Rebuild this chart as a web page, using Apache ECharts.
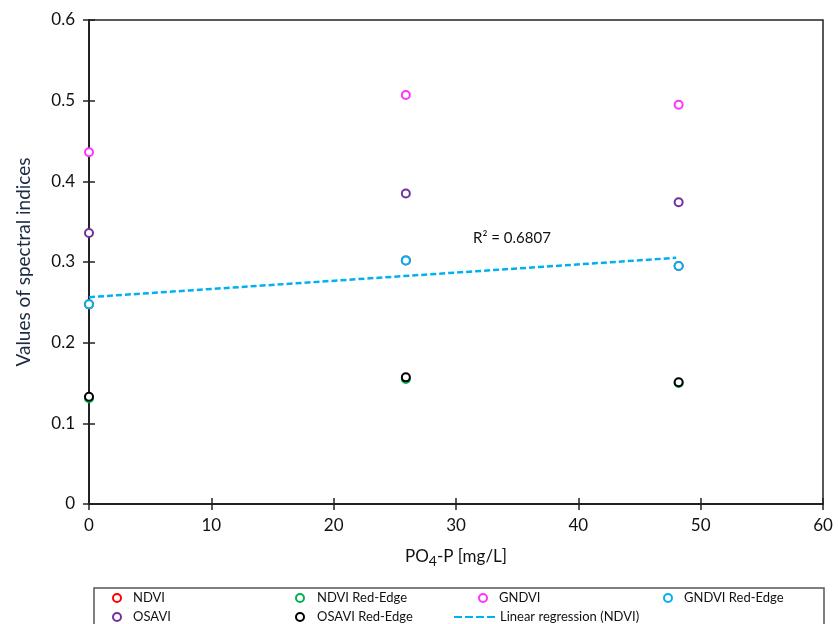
<!DOCTYPE html>
<html>
<head>
<meta charset="utf-8">
<script src="https://cdn.jsdelivr.net/npm/echarts@6/dist/echarts.min.js"></script>
<style>html,body{margin:0;padding:0;background:#fff;}#c{width:838px;height:624px;}</style>
</head>
<body>
<div id="c"></div>
<script>
const xValues = [0, 25.9, 48.2];
const ndvi = [0.2475, 0.302, 0.295];
const ndviRedEdge = [0.131, 0.155, 0.150];
const gndvi = [0.436, 0.507, 0.495];
const gndviRedEdge = [0.2475, 0.302, 0.295];
const osavi = [0.336, 0.385, 0.374];
const osaviRedEdge = [0.133, 0.157, 0.151];
const xTicks = [0, 10, 20, 30, 40, 50, 60];
const yTicks = [0, 0.1, 0.2, 0.3, 0.4, 0.5, 0.6];
const r2Label = 'R² = 0.6807';

const FONT = 'Lato, "Open Sans", sans-serif';

function pairs(ys) { return xValues.map((x, i) => [x, ys[i]]); }

// Linear regression on NDVI
function regression(xs, ys) {
  const n = xs.length;
  const mx = xs.reduce((a, b) => a + b, 0) / n;
  const my = ys.reduce((a, b) => a + b, 0) / n;
  let sxy = 0, sxx = 0;
  for (let i = 0; i < n; i++) { sxy += (xs[i] - mx) * (ys[i] - my); sxx += (xs[i] - mx) ** 2; }
  const b = sxy / sxx, a = my - b * mx;
  const x0 = Math.min(...xs), x1 = 48.0;
  return [[x0, a + b * x0], [x1, a + b * x1]];
}
const regLine = regression(xValues, ndvi);

const chart = echarts.init(document.getElementById('c'), null, { renderer: 'canvas' });

function scatter(name, data, color) {
  return {
    name, type: 'scatter', data: pairs(data), symbol: 'circle', symbolSize: 8,
    clip: false,
    itemStyle: { color: '#fff', borderColor: color, borderWidth: 2, opacity: 1 },
    emphasis: { disabled: true }
  };
}

const legendText = { fontFamily: FONT, fontSize: 13, color: '#111', lineHeight: 14 };
function legend(left, items, itemWidth, top) {
  return {
    left, top: top == null ? 591 : top, orient: 'vertical', data: items,
    itemWidth, itemHeight: 8, itemGap: 5, textStyle: legendText,
    selectedMode: false, padding: 0
  };
}

const option = {
  backgroundColor: '#fff',
  animation: false,
  grid: { left: 89, right: 15, top: 20, bottom: 120, show: true, borderColor: '#222', borderWidth: 1.5, backgroundColor: 'transparent' },
  xAxis: [{
    type: 'value', min: 0, max: 60, interval: 10,
    axisLine: { onZero: false, lineStyle: { color: '#222', width: 2 } },
    axisTick: { length: 6, lineStyle: { color: '#222', width: 1.5 } },
    splitLine: { show: false },
    axisLabel: { margin: 13, fontFamily: FONT, fontSize: 17, color: '#111',
      customValues: xTicks },
    name: '{a|PO}{s|4}{a|-P [mg/L]}', nameLocation: 'middle', nameGap: 42,
    nameTextStyle: { rich: {
      a: { fontFamily: FONT, fontSize: 17, color: '#111' },
      s: { fontFamily: FONT, fontSize: 14, color: '#111', padding: [8, 0, 0, 0] }
    } }
  }, {
    type: 'value', min: 0, max: 60, interval: 10, position: 'bottom',
    axisLine: { show: false }, axisLabel: { show: false }, splitLine: { show: false },
    axisTick: { inside: true, length: 6, lineStyle: { color: '#222', width: 1.5 } }
  }],
  yAxis: [{
    type: 'value', min: 0, max: 0.6, interval: 0.1,
    axisLine: { onZero: false, show: true, lineStyle: { color: '#222', width: 2 } },
    axisTick: { show: true, length: 6, lineStyle: { color: '#222', width: 1.5 } },
    splitLine: { show: false },
    axisLabel: { margin: 14, fontFamily: FONT, fontSize: 17, color: '#111',
      formatter: v => String(Math.round(v * 10) / 10), customValues: yTicks },
    name: 'Values of spectral indices', nameLocation: 'middle', nameGap: 56,
    nameTextStyle: { fontFamily: FONT, fontSize: 19, color: '#1c2a45' }
  }, {
    type: 'value', min: 0, max: 0.6, interval: 0.1, position: 'left',
    axisLine: { show: false }, axisLabel: { show: false }, splitLine: { show: false },
    axisTick: { show: true, inside: true, length: 6, lineStyle: { color: '#222', width: 1.5 } }
  }],
  legend: [
    legend(112, ['NDVI', 'OSAVI'], 22),
    legend(295, ['NDVI Red-Edge', 'OSAVI Red-Edge'], 24),
    legend(478, ['GNDVI'], 22),
    legend(454, [{ name: 'Linear regression (NDVI)', icon: 'path://M0,0H8V2H0Z M11,0H19V2H11Z M22,0H30V2H22Z M33,0H41V2H33Z' }], 41, 610),
    legend(663, ['GNDVI Red-Edge'], 22)
  ],
  graphic: [
    { type: 'rect', shape: { x: 94, y: 588, width: 730, height: 50 }, style: { fill: 'none', stroke: '#555', lineWidth: 1.5 }, silent: true },
    { type: 'text', left: 473, top: 231, style: { text: r2Label, fontFamily: FONT, fontSize: 15, fill: '#111' }, silent: true }
  ],
  series: [
    scatter('NDVI', ndvi, '#ff0000'),
    scatter('NDVI Red-Edge', ndviRedEdge, '#00b050'),
    scatter('GNDVI', gndvi, '#ff33ff'),
    scatter('GNDVI Red-Edge', gndviRedEdge, '#00b0f0'),
    scatter('OSAVI', osavi, '#7030a0'),
    scatter('OSAVI Red-Edge', osaviRedEdge, '#000000'),
    {
      name: 'Linear regression (NDVI)', type: 'line', data: regLine, symbol: 'none', z: 1,
      lineStyle: { color: '#00b0f0', width: 2.5, type: [6, 3] },
      itemStyle: { color: '#00b0f0' }, emphasis: { disabled: true }
    }
  ]
};
chart.setOption(option);
</script>
</body>
</html>
